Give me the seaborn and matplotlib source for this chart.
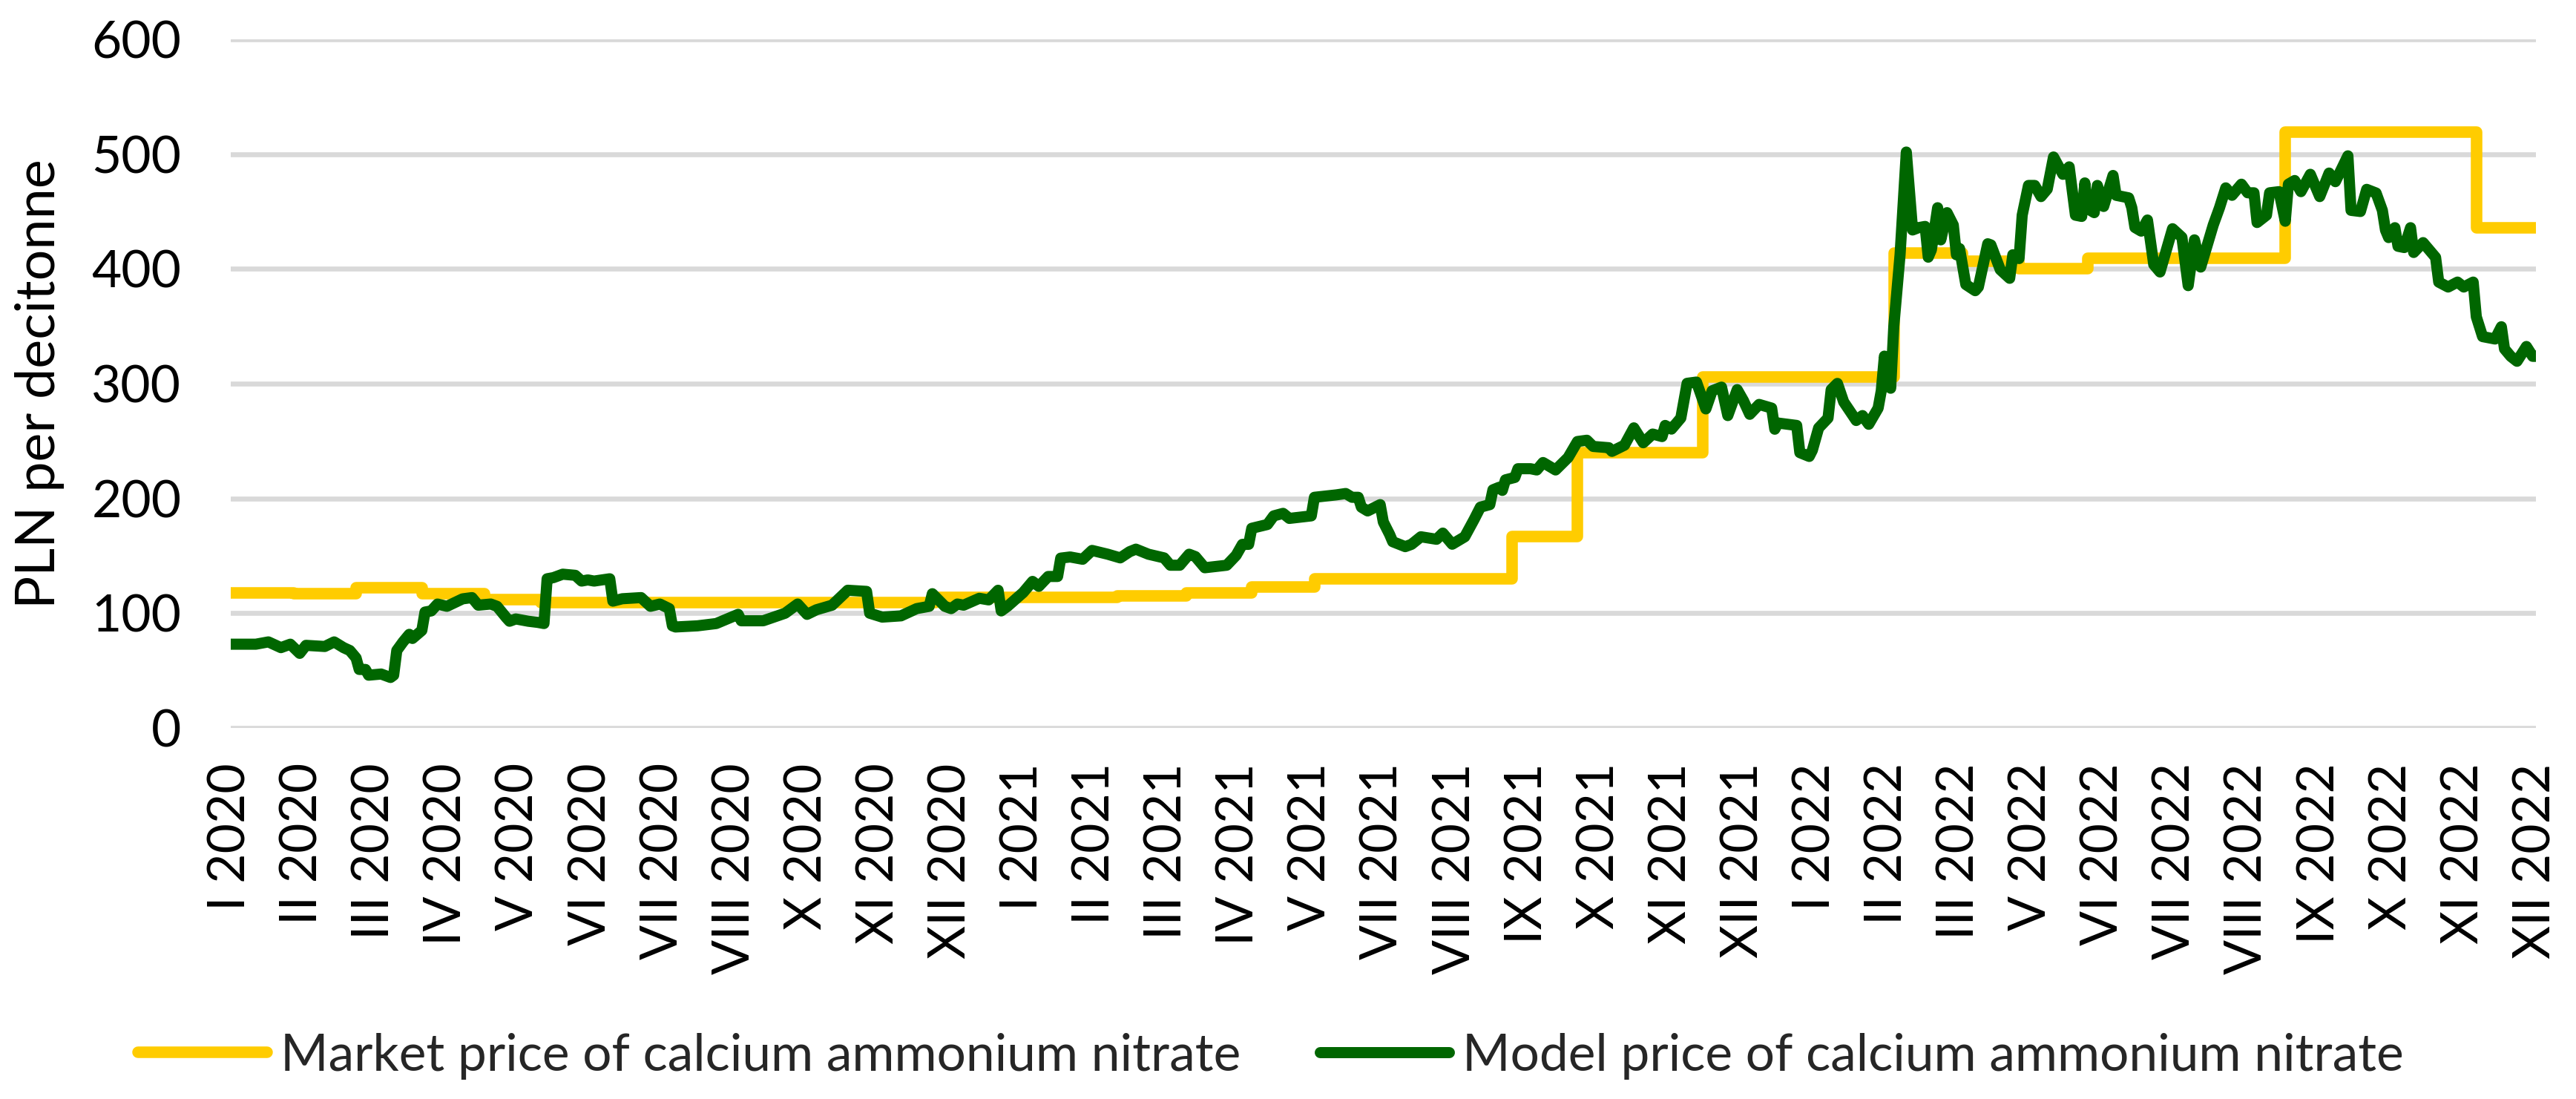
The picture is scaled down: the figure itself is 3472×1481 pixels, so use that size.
import pandas as pd
import seaborn as sns
import matplotlib.pyplot as plt

# x axis: trading-day index, one label every 23 sessions
month_labels = ["I 2020", "II 2020", "III 2020", "IV 2020", "V 2020", "VI 2020", "VII 2020",
                "VIII 2020", "X 2020", "XI 2020", "XII 2020", "I 2021", "II 2021", "III 2021",
                "IV 2021", "V 2021", "VII 2021", "VIII 2021", "IX 2021", "X 2021", "XI 2021",
                "XII 2021", "I 2022", "II 2022", "III 2022", "V 2022", "VI 2022", "VII 2022",
                "VIII 2022", "IX 2022", "X 2022", "XI 2022", "XII 2022"]
label_step = 23
last_day = 736

# market price (monthly, step changes)
market_day = [0, 20, 40, 61, 81, 99, 225, 283, 305, 326, 346, 409, 430, 470, 531, 553,
              571, 593, 656, 717, 736]
market_price = [118, 117, 122, 117, 112, 109, 114, 115, 118, 123, 130, 167, 240, 306, 414, 407,
                400, 409, 519, 436, 436]

# model price (daily, read at turning points)
model_day = [0, 8, 12, 16, 19, 22, 24, 30, 33, 36, 38, 40, 41, 43, 44, 48, 51, 52, 53, 55,
             57, 58, 61, 62, 64, 66, 69, 74, 77, 79, 83, 85, 88, 89, 91, 95, 98, 100, 101, 103,
             106, 110, 112, 114, 116, 121, 122, 125, 131, 134, 137, 140, 141, 142, 149, 155, 162, 163, 170, 177,
             181, 184, 187, 192, 197, 203, 204, 208, 214, 219, 223, 224, 228, 230, 232, 234, 239, 242, 245, 246,
             248, 253, 256, 258, 261, 264, 265, 268, 272, 275, 280, 284, 287, 289, 293, 298, 300, 303, 306, 308,
             311, 318, 321, 323, 325, 326, 331, 333, 336, 338, 345, 346, 353, 356, 358, 360, 361, 363, 367, 368,
             370, 371, 375, 377, 380, 385, 387, 390, 394, 397, 399, 402, 403, 405, 406, 407, 410, 411, 415, 417,
             419, 423, 427, 430, 433, 435, 440, 441, 445, 448, 451, 454, 457, 458, 460, 463, 465, 468, 471, 473,
             476, 478, 481, 483, 485, 488, 492, 493, 494, 500, 501, 504, 505, 507, 510, 511, 513, 515, 519, 521,
             523, 526, 527, 528, 530, 531, 533, 535, 537, 539, 541, 542, 543, 545, 546, 548, 550, 551, 552, 554,
             557, 558, 561, 562, 565, 568, 569, 571, 572, 574, 576, 578, 580, 582, 585, 587, 589, 591, 592, 593,
             595, 596, 598, 601, 602, 606, 607, 608, 610, 612, 614, 616, 620, 623, 625, 627, 629, 633, 635, 637,
             639, 642, 644, 646, 647, 650, 651, 654, 656, 657, 659, 661, 664, 667, 670, 672, 676, 677, 680, 682,
             685, 687, 688, 689, 691, 692, 694, 696, 697, 700, 704, 705, 708, 711, 713, 716, 717, 719, 723, 725,
             726, 728, 730, 733, 735, 736]
model_price = [73, 73, 75, 70, 73, 65, 72, 71, 75, 70, 67.5, 61, 51, 51, 46, 47, 44, 46, 67.5, 75,
               81.6, 78, 85, 101, 102, 108, 106, 112.5, 113.6, 107, 108, 106, 96, 93, 95, 93, 92, 91, 130, 131,
               134, 133, 128, 129, 128, 130, 110.5, 112.6, 113.6, 106, 108, 104, 89, 88, 89, 91, 99, 93.4, 93.4, 100,
               108, 99, 103, 107, 120, 119, 100, 96.6, 97.7, 104, 106, 117, 106, 104, 108, 107, 113, 111.6, 120, 102,
               106, 118, 127.7, 123.4, 132, 132, 148, 149, 147, 154.7, 151.4, 148.2, 153.6, 155.8, 151.4, 148.2, 141.8, 141.8, 151.4, 149.3,
               139.6, 141.8, 150.4, 160, 160, 174, 177.3, 184.8, 187, 182.6, 184.8, 201, 203.1, 204.3, 201, 201, 192.4, 189.1, 194.6, 179.5,
               168.7, 162.3, 158, 160, 166.6, 164.4, 169.8, 160.1, 166.6, 181.7, 192.4, 194.6, 207.5, 209.7, 207, 216.2, 218.3, 225.9, 225.9, 224.8,
               231.3, 224.8, 235.6, 249.6, 250.7, 245.3, 244.2, 241, 246.4, 261.5, 248.5, 256.1, 253.9, 263.6, 260.4, 270.1, 300.3, 301.4, 278, 293.8,
               297, 272.2, 294.8, 285.2, 273.3, 281.9, 278.7, 260.3, 265.7, 263.6, 239.9, 236.6, 242, 261.4, 270, 294.8, 300.2, 284.1, 267.9, 272.2,
               264.6, 278.7, 293.8, 324, 296, 349.8, 412.3, 501.8, 433.9, 436, 437, 410.2, 416.6, 453.3, 425.3, 449, 438.2, 412.3, 417.7, 386.4,
               381, 384.2, 421.9, 420.9, 399.3, 391.8, 412.3, 409, 446.8, 472.7, 472.7, 463, 469.5, 497.5, 482.4, 488.9, 446.8, 445.7, 474.9, 452.3,
               449, 472.7, 454.4, 481.4, 464.1, 461.9, 453.3, 436.1, 432.9, 442.6, 403.8, 397.3, 435, 427.5, 385.4, 425.3, 401.6, 438.2, 453.3, 470.6,
               464.1, 473.8, 466.3, 466.3, 440.4, 446.8, 466.3, 467.3, 441.5, 473.8, 477, 467.3, 482.4, 463, 483.5, 476, 498.5, 451, 450, 469.3,
               466.1, 451, 433.8, 427.3, 435.9, 419.7, 418.6, 435.9, 414.3, 422.9, 410, 388.5, 384.2, 388.5, 384.2, 388.5, 358.3, 341, 338.9, 349.6,
               330.3, 323.8, 319.5, 332.4, 323.8, 323.8]

market = pd.DataFrame({"day": market_day, "price": market_price})
model = pd.DataFrame({"day": model_day, "price": model_price})

sns.set_theme(style="white")
plt.rcParams["font.family"] = ["Lato", "DejaVu Sans"]

fig = plt.figure(figsize=(17.36, 7.405), dpi=200)
ax = fig.add_axes([0.0896, 0.3376, 0.8948, 0.6266])

sns.lineplot(data=market, x="day", y="price", ax=ax, color="#FFCC00", linewidth=5.6,
             estimator=None, drawstyle="steps-post", solid_joinstyle="round",
             solid_capstyle="round", label="Market price of calcium ammonium nitrate")
sns.lineplot(data=model, x="day", y="price", ax=ax, color="#006600", linewidth=5.4,
             estimator=None, solid_joinstyle="round", solid_capstyle="round",
             label="Model price of calcium ammonium nitrate")

ax.set_xlim(0, last_day)
ax.set_ylim(0, 600)
ax.set_yticks(range(0, 601, 100))
ax.set_xticks(range(0, last_day + 1, label_step))
ax.set_xticklabels(month_labels, rotation=90, ha="center", va="top")
ax.yaxis.grid(True, color="#D9D9D9", linewidth=2.4)
ax.set_axisbelow(True)
for s in ax.spines.values():
    s.set_visible(False)
ax.tick_params(axis="x", length=0, pad=17, labelsize=25, colors="black")
ax.tick_params(axis="y", length=0, pad=24, labelsize=25, colors="black")
ax.set_xlabel("")
ax.set_ylabel("PLN per decitonne", fontsize=26.5, color="black")
ax.yaxis.set_label_coords(-0.072, 0.5)

handles, labels = ax.get_legend_handles_labels()
ax.get_legend().remove()
fig.legend(handles, labels, loc="center", bbox_to_anchor=(0.4934, 0.039), ncol=2,
           frameon=False, fontsize=25, handlelength=2.5, handletextpad=0.26,
           columnspacing=1.54)

fig.savefig("out.png", dpi=200)
